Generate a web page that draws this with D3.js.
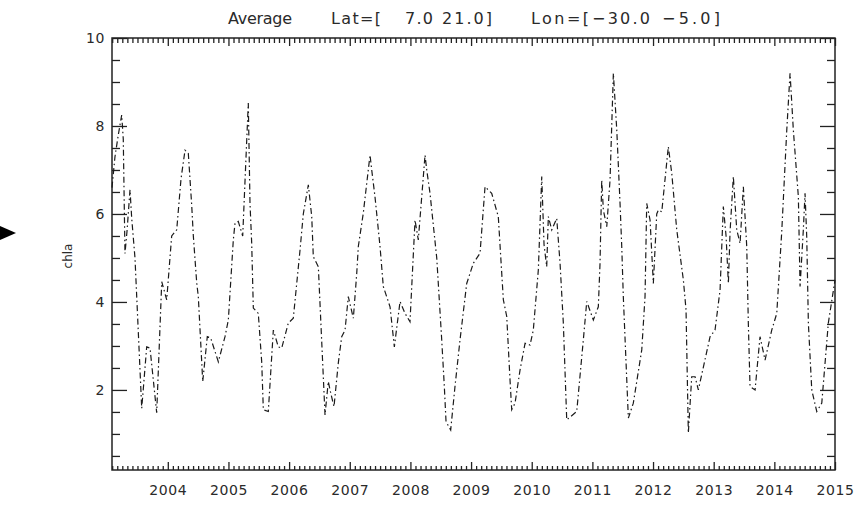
<!DOCTYPE html>
<html>
<head>
<meta charset="utf-8">
<script src="https://cdn.jsdelivr.net/npm/d3@7"></script>
<style>
  html, body { margin: 0; padding: 0; background: #fff; }
  svg { display: block; }
  text { font-family: "DejaVu Sans", sans-serif; fill: #2a2a2a; }
</style>
</head>
<body>
<script>
// Time (decimal year) of each sample
const years = [
  2003.080, 2003.129, 2003.184, 2003.240, 2003.266, 2003.294, 2003.327, 2003.377, 2003.405, 2003.459,
  2003.570, 2003.652, 2003.707, 2003.817, 2003.900, 2003.982, 2004.064, 2004.147, 2004.218, 2004.284,
  2004.338, 2004.394, 2004.421, 2004.477, 2004.503, 2004.576, 2004.651, 2004.707, 2004.833, 2004.943,
  2004.998, 2005.080, 2005.108, 2005.162, 2005.235, 2005.327, 2005.355, 2005.383, 2005.410, 2005.492,
  2005.548, 2005.575, 2005.657, 2005.740, 2005.822, 2005.878, 2005.987, 2006.069, 2006.180, 2006.234,
  2006.317, 2006.373, 2006.399, 2006.482, 2006.592, 2006.646, 2006.686, 2006.740, 2006.811, 2006.867,
  2006.922, 2006.976, 2007.059, 2007.115, 2007.141, 2007.223, 2007.334, 2007.362, 2007.416, 2007.499,
  2007.553, 2007.664, 2007.735, 2007.829, 2007.911, 2007.993, 2008.076, 2008.130, 2008.241, 2008.269,
  2008.323, 2008.434, 2008.516, 2008.559, 2008.587, 2008.664, 2008.735, 2008.818, 2008.928, 2009.037,
  2009.148, 2009.230, 2009.340, 2009.449, 2009.477, 2009.532, 2009.588, 2009.642, 2009.670, 2009.725,
  2009.807, 2009.890, 2009.972, 2010.026, 2010.109, 2010.165, 2010.203, 2010.247, 2010.274, 2010.330,
  2010.412, 2010.467, 2010.521, 2010.577, 2010.742, 2010.851, 2010.907, 2011.016, 2011.098, 2011.126,
  2011.154, 2011.181, 2011.237, 2011.291, 2011.346, 2011.402, 2011.456, 2011.484, 2011.510, 2011.593,
  2011.675, 2011.814, 2011.868, 2011.896, 2011.951, 2012.005, 2012.061, 2012.088, 2012.144, 2012.252,
  2012.309, 2012.391, 2012.500, 2012.544, 2012.582, 2012.638, 2012.693, 2012.747, 2012.940, 2013.022,
  2013.105, 2013.159, 2013.204, 2013.242, 2013.270, 2013.324, 2013.380, 2013.435, 2013.489, 2013.545,
  2013.571, 2013.599, 2013.682, 2013.764, 2013.847, 2013.957, 2014.040, 2014.122, 2014.205, 2014.259,
  2014.313, 2014.396, 2014.424, 2014.478, 2014.506, 2014.534, 2014.561, 2014.617, 2014.699, 2014.782,
  2014.890, 2015.000
];

// Area-averaged chlorophyll-a at each sample
const chla = [
  6.60, 7.30, 7.80, 8.25, 7.70, 5.10, 5.60, 6.55, 5.90, 5.00,
  1.58, 2.98, 2.95, 1.48, 4.46, 4.05, 5.50, 5.64, 6.80, 7.45,
  7.38, 6.20, 5.50, 4.43, 4.12, 2.19, 3.21, 3.18, 2.64, 3.21,
  3.59, 5.41, 5.79, 5.83, 5.50, 8.52, 6.25, 5.34, 3.86, 3.74,
  2.64, 1.55, 1.51, 3.36, 2.98, 2.95, 3.52, 3.63, 5.18, 6.00,
  6.66, 5.94, 5.03, 4.80, 1.43, 2.19, 1.93, 1.62, 2.61, 3.21,
  3.36, 4.12, 3.63, 4.65, 5.26, 6.02, 7.34, 7.00, 6.39, 5.26,
  4.35, 3.89, 2.98, 4.01, 3.74, 3.55, 5.86, 5.41, 7.34, 7.00,
  6.47, 5.00, 3.14, 2.08, 1.28, 1.09, 2.08, 3.14, 4.42, 4.88,
  5.11, 6.62, 6.47, 5.94, 5.30, 4.05, 3.67, 2.23, 1.55, 1.70,
  2.45, 3.06, 3.02, 3.36, 4.73, 6.85, 5.30, 4.80, 5.94, 5.64,
  5.90, 4.88, 3.52, 1.32, 1.51, 3.14, 4.01, 3.59, 3.89, 4.88,
  6.77, 6.09, 5.71, 6.77, 9.20, 7.91, 6.24, 5.26, 4.12, 1.36,
  1.70, 2.91, 4.12, 6.24, 5.86, 4.42, 6.00, 6.09, 6.05, 7.53,
  6.92, 5.64, 4.50, 3.82, 1.02, 2.30, 2.30, 2.00, 3.21, 3.36,
  4.27, 6.17, 5.50, 4.42, 5.60, 6.85, 5.64, 5.33, 6.62, 5.26,
  3.52, 2.08, 2.00, 3.21, 2.68, 3.36, 3.74, 5.60, 7.91, 9.20,
  7.91, 6.39, 4.35, 5.64, 6.47, 5.48, 3.52, 2.00, 1.51, 1.70,
  3.52, 4.50
];

// Axis ticks
const yearTicks = [2004, 2005, 2006, 2007, 2008, 2009, 2010, 2011, 2012, 2013, 2014, 2015];
const valueTicks = [2, 4, 6, 8, 10];
const xDomain = [2003.08, 2015];
const yDomain = [0.18, 10];

// Title pieces with their left edge and run width
const titleParts = [
  { text: "Average", x: 228, w: 64 },
  { text: "Lat=[", x: 331, w: 50 },
  { text: "7.0", x: 405, w: 28 },
  { text: "21.0]", x: 442, w: 50 },
  { text: "Lon=[", x: 531, w: 58 },
  { text: "\u221230.0", x: 592, w: 58 },
  { text: "\u22125.0]", x: 662, w: 58 }
];
const yLabel = "chla";

const W = 866, H = 512;
const plotLeft = 112, plotRight = 835, plotTop = 38, plotBottom = 470;

const svg = d3.select("body").append("svg")
  .attr("width", W).attr("height", H)
  .attr("viewBox", `0 0 ${W} ${H}`);

svg.append("rect").attr("width", W).attr("height", H).attr("fill", "#fff");

const x = d3.scaleLinear().domain(xDomain).range([plotLeft, plotRight]);
const y = d3.scaleLinear().domain(yDomain).range([plotBottom, plotTop]);

// minor tick positions: months along x, half units along y
const monthTicks = d3.range(2003 * 12, 2015 * 12 + 1).map(m => m / 12)
  .filter(v => v >= xDomain[0] - 1e-6 && v <= xDomain[1] + 1e-6 && Math.abs(v - Math.round(v)) > 1e-6);
const halfTicks = d3.range(1, 20).map(v => v / 2).filter(v => v % 2 !== 0);

const axisColor = "#222";

function styleAxis(g) {
  g.select(".domain").remove();
  g.selectAll(".tick line").attr("stroke", axisColor).attr("stroke-width", 1.3);
  g.selectAll(".tick text").style("font-size", "14px").style("letter-spacing", "0.6px").attr("fill", "#333");
}

// bottom axis
svg.append("g").attr("transform", `translate(0,${plotBottom})`)
  .call(d3.axisBottom(x).tickValues(monthTicks).tickSize(-4).tickFormat(""))
  .call(styleAxis);
svg.append("g").attr("transform", `translate(0,${plotBottom})`)
  .call(d3.axisBottom(x).tickValues(yearTicks).tickSize(-8).tickPadding(15).tickFormat(d3.format("d")))
  .call(styleAxis);

// top axis
svg.append("g").attr("transform", `translate(0,${plotTop})`)
  .call(d3.axisTop(x).tickValues(monthTicks).tickSize(-5).tickFormat(""))
  .call(styleAxis);
svg.append("g").attr("transform", `translate(0,${plotTop})`)
  .call(d3.axisTop(x).tickValues(yearTicks).tickSize(-8).tickFormat(""))
  .call(styleAxis);

// left axis
svg.append("g").attr("transform", `translate(${plotLeft},0)`)
  .call(d3.axisLeft(y).tickValues(halfTicks).tickSize(-8).tickFormat(""))
  .call(styleAxis);
svg.append("g").attr("transform", `translate(${plotLeft},0)`)
  .call(d3.axisLeft(y).tickValues(valueTicks).tickSize(-15).tickPadding(7).tickFormat(d3.format("d")))
  .call(styleAxis);

// right axis
svg.append("g").attr("transform", `translate(${plotRight},0)`)
  .call(d3.axisRight(y).tickValues(halfTicks).tickSize(-8).tickFormat(""))
  .call(styleAxis);
svg.append("g").attr("transform", `translate(${plotRight},0)`)
  .call(d3.axisRight(y).tickValues(valueTicks).tickSize(-15).tickFormat(""))
  .call(styleAxis);

// frame
svg.append("rect")
  .attr("x", plotLeft).attr("y", plotTop)
  .attr("width", plotRight - plotLeft).attr("height", plotBottom - plotTop)
  .attr("fill", "none").attr("stroke", axisColor).attr("stroke-width", 1.5);

// data line, dash-dot
const line = d3.line().x((d, i) => x(years[i])).y(d => y(d));
svg.append("path")
  .datum(chla)
  .attr("d", line)
  .attr("fill", "none")
  .attr("stroke", "#1a1a1a")
  .attr("stroke-width", 1.2)
  .attr("stroke-dasharray", "6,3,1.5,3");

// title
const title = svg.append("text")
  .attr("y", 24)
  .style("font-size", "16px");
title.selectAll("tspan")
  .data(titleParts)
  .join("tspan")
  .attr("x", d => d.x)
  .attr("textLength", d => d.w)
  .attr("lengthAdjust", "spacing")
  .text(d => d.text);

// y label
svg.append("text")
  .attr("transform", `translate(72,${(plotTop + plotBottom) / 2 + 2}) rotate(-90)`)
  .attr("text-anchor", "middle")
  .style("font-size", "12px")
  .text(yLabel);

// pointer at the left edge
svg.append("path")
  .attr("d", "M0,226 L16,233 L0,240 Z")
  .attr("fill", "#000");
</script>
</body>
</html>
